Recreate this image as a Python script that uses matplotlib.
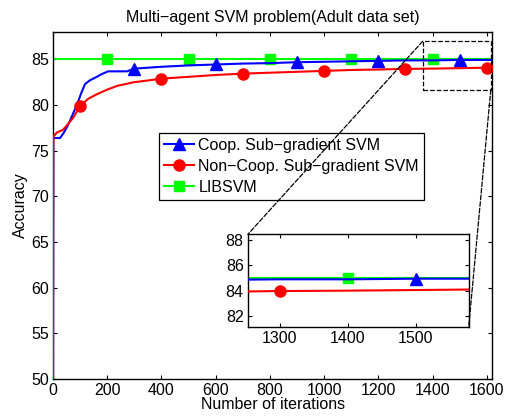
import matplotlib
matplotlib.use("Agg")
import matplotlib.pyplot as plt
import numpy as np
from matplotlib.patches import Rectangle, ConnectionPatch

plt.rcParams['font.family'] = ['Liberation Sans', 'DejaVu Sans']
FS = 11.5
plt.rcParams['font.size'] = FS

# ---- data ----
coop_x = [0, 1, 10, 26, 40, 55, 70, 89, 105, 118, 135, 155, 180, 203, 273, 300, 400, 500, 600,
          700, 800, 900, 1000, 1100, 1200, 1300, 1400, 1500, 1600, 1620]
coop_y = [50, 76.4, 76.4, 76.4, 77.0, 77.8, 78.8, 80.1, 81.4, 82.3, 82.7, 83.0, 83.4, 83.7, 83.7,
          84.0, 84.2, 84.35, 84.45, 84.55, 84.6, 84.7, 84.75, 84.8, 84.85, 84.9, 84.9, 84.95, 84.95, 84.95]
coop_marks = [300, 600, 900, 1200, 1500]

noncoop_x = [0, 0, 1, 3, 14, 37, 74, 100, 130, 162, 200, 236, 296, 350, 400, 500, 600, 700, 800,
             900, 1000, 1100, 1200, 1300, 1400, 1500, 1600, 1620]
noncoop_y = [50, 63, 76.5, 76.6, 77.0, 77.3, 78.6, 79.9, 80.7, 81.2, 81.7, 82.1, 82.5, 82.7, 82.9,
             83.1, 83.3, 83.45, 83.55, 83.65, 83.75, 83.85, 83.9, 83.97, 84.0, 84.05, 84.1, 84.1]
noncoop_marks = [100, 400, 700, 1000, 1300, 1600]

lib_x = [0, 200, 500, 800, 1100, 1400, 1620]
lib_y = [85.0, 85.0, 85.0, 85.0, 85.0, 85.0, 85.0]
lib_marks = [200, 500, 800, 1100, 1400]

labels = ['Coop. Sub\u2212gradient SVM', 'Non\u2212Coop. Sub\u2212gradient SVM', 'LIBSVM']

title = 'Multi\u2212agent SVM problem(Adult data set)'
xlabel = 'Number of iterations'
ylabel = 'Accuracy'

main_xticks = [0, 200, 400, 600, 800, 1000, 1200, 1400, 1600]
main_yticks = [50, 55, 60, 65, 70, 75, 80, 85]
ins_xticks = [1300, 1400, 1500]
ins_yticks = [82, 84, 86, 88]

blue = '#0000ff'
red = '#ff0000'
green = '#00ff00'


def idx(xs, marks):
    return [xs.index(m) for m in marks]


def draw(ax, lw=1.5, ms=8):
    ax.plot(coop_x, coop_y, color=blue, lw=lw, marker='^', ms=ms + 1,
            markevery=idx(coop_x, coop_marks), label=labels[0], zorder=3)
    ax.plot(noncoop_x, noncoop_y, color=red, lw=lw, marker='o', ms=ms,
            markevery=idx(noncoop_x, noncoop_marks), label=labels[1], zorder=3)
    ax.plot(lib_x, lib_y, color=green, lw=lw, marker='s', ms=ms - 1,
            markevery=idx(lib_x, lib_marks), label=labels[2], zorder=2)


def style(ax):
    ax.tick_params(direction='in', top=True, right=True, length=2.8, width=0.8, labelsize=FS,
                   pad=3)
    for s in ax.spines.values():
        s.set_linewidth(1.0)


fig = plt.figure(figsize=(5.1, 4.2), dpi=100)
ax = fig.add_axes([0.104, 0.0976, 0.861, 0.826])
draw(ax)
ax.set_xlim(0, 1620)
ax.set_ylim(50, 88)
ax.set_xticks(main_xticks)
ax.set_yticks(main_yticks)
style(ax)
ax.set_title(title, fontsize=FS, pad=7)
ax.set_xlabel(xlabel, fontsize=FS, labelpad=-1)
ax.set_ylabel(ylabel, fontsize=FS, labelpad=2)

leg = ax.legend(loc='upper left', bbox_to_anchor=(0.312, 0.683), bbox_transform=fig.transFigure,
                fancybox=False, edgecolor='black', framealpha=1, fontsize=FS,
                handlelength=1.9, borderpad=0.3, labelspacing=0.38, handletextpad=0.25,
                borderaxespad=0)
leg.get_frame().set_linewidth(0.9)

# zoom rectangle
rx0, rx1, ry0, ry1 = 1364, 1615, 81.7, 87.0
ax.add_patch(Rectangle((rx0, ry0), rx1 - rx0, ry1 - ry0, fill=False, ls='--', lw=0.9,
                       edgecolor='black', zorder=5))

axins = fig.add_axes([0.486, 0.221, 0.433, 0.221])
draw(axins)
axins.set_xlim(1253, 1578)
axins.set_ylim(81.1, 88.47)
axins.set_xticks(ins_xticks)
axins.set_yticks(ins_yticks)
style(axins)

for (xa, ya), (xb, yb) in [((rx0, ry1), (0, 1)), ((rx1, ry0), (1, 0))]:
    cp = ConnectionPatch(xyA=(xa, ya), coordsA=ax.transData, xyB=(xb, yb), coordsB=axins.transAxes,
                         ls='--', lw=0.9, color='black', zorder=5)
    fig.add_artist(cp)

fig.savefig('out.png', dpi=100)
